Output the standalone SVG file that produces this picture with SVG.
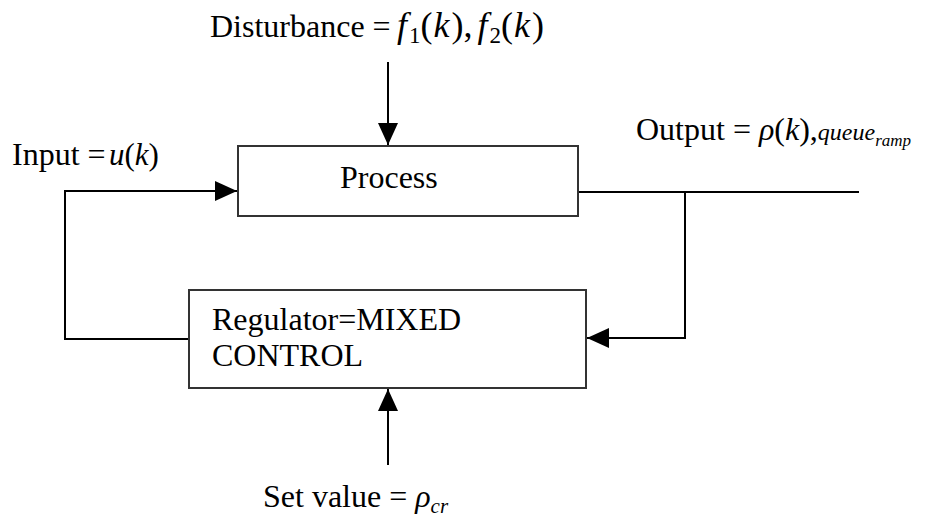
<svg xmlns="http://www.w3.org/2000/svg" width="929" height="531" viewBox="0 0 929 531" font-family="Liberation Serif" font-size="32">
  <style>
    .it { font-style: italic; }
    .box { fill: #fff; stroke: #333; stroke-width: 2; }
    .wire { fill: none; stroke: #000; stroke-width: 2; }
  </style>
  <defs>
    <marker id="arrow" markerUnits="userSpaceOnUse" markerWidth="24" markerHeight="22" refX="22" refY="10" orient="auto">
      <path d="M0,0 L22,10 L0,20 Z" fill="#000"/>
    </marker>
  </defs>

  <!-- signal lines -->
  <g id="connectors">
    <line class="wire" x1="388" y1="62" x2="388" y2="145" marker-end="url(#arrow)"/>
    <path class="wire" d="M189,339 L65,339 L65,191 L237,191" marker-end="url(#arrow)"/>
    <line class="wire" x1="578" y1="192" x2="859" y2="192"/>
    <path class="wire" d="M685,192 L685,338 L587,338" marker-end="url(#arrow)"/>
    <line class="wire" x1="388" y1="465" x2="388" y2="389" marker-end="url(#arrow)"/>
  </g>

  <g id="process">
    <rect class="box" x="238" y="146" width="340" height="70"/>
    <text font-family="Liberation Serif" x="340" y="188">Process</text>
  </g>

  <g id="regulator">
    <rect class="box" x="189" y="290" width="397" height="98"/>
    <text font-family="Liberation Serif" x="212" y="330">Regulator=MIXED</text>
    <text font-family="Liberation Serif" x="212" y="366">CONTROL</text>
  </g>

  <g id="disturbance">
    <text font-family="Liberation Serif" x="210" y="37">Disturbance =<tspan x="397" font-size="36" class="it">f</tspan><tspan font-size="23" dx="2" dy="6">1</tspan><tspan font-size="36" dy="-6">(</tspan><tspan font-size="36" class="it" dx="1">k</tspan><tspan font-size="36" dx="2">),</tspan><tspan font-size="36" class="it" dx="5">f</tspan><tspan font-size="23" dx="2" dy="6">2</tspan><tspan font-size="36" dy="-6">(</tspan><tspan font-size="36" class="it" dx="1">k</tspan><tspan font-size="36" dx="2">)</tspan></text>
  </g>

  <g id="input">
    <text font-family="Liberation Serif" x="12" y="165">Input =<tspan x="109" class="it" font-size="31">u</tspan><tspan font-size="31">(</tspan><tspan class="it" font-size="31">k</tspan><tspan font-size="31">)</tspan></text>
  </g>

  <g id="output">
    <text font-family="Liberation Serif" x="636" y="140">Output = <tspan class="it">ρ</tspan>(<tspan class="it">k</tspan>),<tspan class="it" font-size="24">queue</tspan><tspan class="it" font-size="17" dy="6">ramp</tspan></text>
  </g>

  <g id="setvalue">
    <text font-family="Liberation Serif" x="263" y="507">Set value = <tspan class="it">ρ</tspan><tspan class="it" font-size="21" dy="6">cr</tspan></text>
  </g>
</svg>
